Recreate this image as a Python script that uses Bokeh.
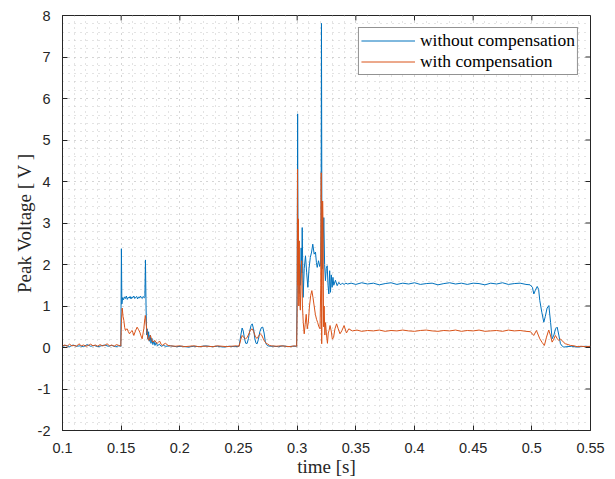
from bokeh.plotting import figure
from bokeh.models import FixedTicker, Range1d
from bokeh.embed import file_html
from bokeh.resources import INLINE

# ---------------- data ----------------
blue_t = [
    0.100, 0.103, 0.106, 0.109, 0.112, 0.115, 0.118, 0.121, 0.124, 0.127, 0.130, 0.133, 0.136, 0.139, 0.142, 0.145, 0.148, 0.1497,
    0.1502, 0.1506, 0.1512, 0.1520, 0.1528, 0.1536, 0.1544, 0.1552, 0.1560, 0.1568, 0.1576, 0.1584, 0.1592, 0.1600, 0.1608, 0.1616,
    0.1624, 0.1632, 0.1640, 0.1648, 0.1656, 0.1664, 0.1672, 0.1680, 0.1688, 0.1696, 0.1702,
    0.1707, 0.1712, 0.1717, 0.1722, 0.1728, 0.1734, 0.1740, 0.1747, 0.1754, 0.1762, 0.1770, 0.1779, 0.1788, 0.1798, 0.1810, 0.1825,
    0.1840, 0.1860, 0.1880,
    0.192, 0.197, 0.202, 0.207, 0.212, 0.217, 0.222, 0.227, 0.232, 0.237, 0.242, 0.247, 0.2505,
    0.2520, 0.2531, 0.2540, 0.2552, 0.2562, 0.2574, 0.2585, 0.2596, 0.2607, 0.2617, 0.2628, 0.2640, 0.2650, 0.2659, 0.2670, 0.2682,
    0.2695, 0.2707, 0.2718, 0.2728, 0.2738, 0.2750, 0.2770,
    0.280, 0.284, 0.288, 0.292, 0.296, 0.2995,
    0.3000, 0.3004, 0.3008, 0.3012, 0.3017, 0.3022, 0.3028, 0.3034, 0.3039, 0.3043,
    0.3051, 0.3060, 0.3071, 0.3081, 0.3091, 0.3101, 0.3112, 0.3123, 0.3133, 0.3145,
    0.3156, 0.3164, 0.3171, 0.3182, 0.3193, 0.3200, 0.3204, 0.3207, 0.3211, 0.3216,
    0.3222, 0.3227, 0.3234, 0.3241, 0.3248, 0.3256, 0.3263, 0.3270, 0.3277, 0.3284,
    0.3291, 0.3298, 0.3305, 0.3312, 0.3326, 0.3341, 0.3355, 0.3370, 0.3384, 0.3400,
    0.3415, 0.3430,
    0.346, 0.350, 0.355, 0.360, 0.365, 0.370, 0.375, 0.380, 0.385, 0.390,
    0.395, 0.400, 0.405, 0.410, 0.415, 0.420, 0.425, 0.430, 0.435, 0.440,
    0.445, 0.450, 0.455, 0.460, 0.465, 0.470, 0.475, 0.480, 0.485, 0.490,
    0.495, 0.4985,
    0.5005, 0.5017, 0.5030, 0.5046, 0.5058, 0.5068, 0.5085, 0.5102, 0.5115, 0.5130,
    0.5145, 0.5160, 0.5173, 0.5188, 0.5202, 0.5216, 0.5230, 0.5244, 0.5260, 0.5273,
    0.530, 0.534, 0.538, 0.542, 0.546, 0.550,
]
blue_v = [
    0.03, 0.05, 0.02, 0.06, 0.03, 0.04, 0.02, 0.07, 0.03, 0.05, 0.02, 0.04, 0.06, 0.03, 0.05, 0.02, 0.04, 0.03,
    2.38, 1.05, 1.20, 1.15, 1.22, 1.18, 1.24, 1.16, 1.21, 1.19, 1.23, 1.17, 1.22, 1.20, 1.24, 1.18,
    1.21, 1.23, 1.17, 1.22, 1.19, 1.24, 1.20, 1.18, 1.23, 1.20, 1.22,
    2.11, 1.00, 0.30, 0.45, 0.20, 0.38, 0.15, 0.30, 0.10, 0.22, 0.07, 0.16, 0.05, 0.12, 0.04, 0.08,
    0.03, 0.05, 0.03,
    0.04, 0.02, 0.03, 0.01, 0.03, 0.02, 0.04, 0.02, 0.03, 0.01, 0.03, 0.02, 0.03,
    0.30, 0.47, 0.40, 0.20, 0.10, 0.10, 0.22, 0.40, 0.53, 0.57, 0.45, 0.20, 0.10, 0.09, 0.20, 0.38,
    0.48, 0.49, 0.35, 0.15, 0.07, 0.04, 0.03,
    0.03, 0.02, 0.04, 0.02, 0.03, 0.03,
    1.50, 5.63, 1.60, 2.30, 1.30, 2.00, 1.50, 2.40, 1.80, 2.89,
    1.21, 1.90, 2.21, 1.80, 1.45, 1.90, 2.17, 2.30, 2.49, 2.25,
    2.30, 2.05, 1.93, 2.09, 1.95, 2.00, 3.00, 7.81, 2.50, 1.90,
    2.60, 3.13, 2.00, 1.61, 1.90, 1.97, 1.50, 1.29, 1.85, 1.33,
    1.75, 1.45, 1.69, 1.50, 1.62, 1.49, 1.57, 1.51, 1.55, 1.52,
    1.55, 1.53,
    1.55, 1.52, 1.56, 1.53, 1.55, 1.51, 1.54, 1.56, 1.52, 1.55,
    1.53, 1.56, 1.52, 1.54, 1.55, 1.51, 1.54, 1.56, 1.53, 1.55,
    1.52, 1.55, 1.54, 1.51, 1.55, 1.53, 1.56, 1.52, 1.54, 1.55,
    1.52, 1.51,
    1.45, 1.29, 1.38, 1.47, 1.40, 1.13, 0.85, 0.61, 0.75, 0.95,
    1.01, 0.60, 0.21, 0.30, 0.45, 0.49, 0.30, 0.09, 0.03, 0.01,
    0.02, 0.03, 0.01, 0.02, 0.03, 0.02,
]

orange_t = [
    0.100, 0.102, 0.104, 0.106, 0.108, 0.110, 0.112, 0.114, 0.116, 0.118, 0.120, 0.122, 0.124, 0.126, 0.128, 0.130,
    0.132, 0.134, 0.136, 0.138, 0.140, 0.142, 0.144, 0.146, 0.148, 0.1497,
    0.1502, 0.1509, 0.1516, 0.1523, 0.1530, 0.1537, 0.1544, 0.1551, 0.1561, 0.1571,
    0.1582, 0.1594, 0.1601, 0.1608, 0.1622, 0.1636, 0.1648, 0.1659, 0.1669, 0.1679,
    0.1693, 0.1702, 0.1707, 0.1714, 0.1722, 0.1729, 0.1736, 0.1743, 0.1750, 0.1760,
    0.1770, 0.1778, 0.1787, 0.1797, 0.1807, 0.1818, 0.1829, 0.1840, 0.1850, 0.1864,
    0.1878, 0.1900, 0.1920,
    0.196, 0.200, 0.204, 0.208, 0.212, 0.216, 0.220, 0.224, 0.228, 0.232, 0.236, 0.240, 0.244, 0.248, 0.2505,
    0.2520, 0.2531, 0.2545, 0.2560, 0.2574, 0.2588, 0.2602, 0.2617, 0.2630, 0.2645,
    0.2659, 0.2672, 0.2685, 0.2697, 0.2710, 0.2722, 0.2736, 0.2750, 0.2765, 0.2780,
    0.282, 0.286, 0.290, 0.294, 0.2975, 0.2996,
    0.3000, 0.3003, 0.3006, 0.3010, 0.3014, 0.3018, 0.3022, 0.3027, 0.3032, 0.3038,
    0.3045, 0.3052, 0.3060, 0.3068, 0.3077, 0.3086, 0.3095, 0.3105, 0.3115, 0.3125,
    0.3135, 0.3145, 0.3155, 0.3165, 0.3175, 0.3185, 0.3195, 0.3201, 0.3205, 0.3209,
    0.3213, 0.3217, 0.3221, 0.3225, 0.3230, 0.3236, 0.3242, 0.3250, 0.3258, 0.3265,
    0.3272, 0.3280, 0.3290, 0.3300, 0.3310, 0.3322, 0.3336, 0.3350, 0.3365, 0.3380,
    0.3400, 0.3420, 0.3440,
    0.347, 0.351, 0.355, 0.360, 0.365, 0.370, 0.375, 0.380, 0.385, 0.390,
    0.395, 0.400, 0.405, 0.410, 0.415, 0.420, 0.425, 0.430, 0.435, 0.440,
    0.445, 0.450, 0.455, 0.460, 0.465, 0.470, 0.475, 0.480, 0.485, 0.490,
    0.495, 0.4989,
    0.5016, 0.5039, 0.5055, 0.5068, 0.5088, 0.5107, 0.5125, 0.5144, 0.5158, 0.5173,
    0.5187, 0.5201, 0.5215, 0.5229, 0.5244, 0.5258, 0.5272, 0.5286, 0.5310, 0.5329,
    0.536, 0.5386, 0.542, 0.546, 0.550,
]
orange_v = [
    0.04, 0.06, 0.03, 0.08, 0.04, 0.05, 0.03, 0.09, 0.04, 0.06, 0.03, 0.05, 0.08, 0.04, 0.06, 0.03,
    0.07, 0.04, 0.05, 0.09, 0.04, 0.06, 0.03, 0.07, 0.05, 0.04,
    0.60, 0.95, 0.75, 0.65, 0.48, 0.41, 0.44, 0.45, 0.38, 0.33,
    0.38, 0.41, 0.35, 0.29, 0.40, 0.49, 0.43, 0.37, 0.28, 0.21,
    0.45, 0.70, 0.77, 0.55, 0.33, 0.22, 0.17, 0.24, 0.29, 0.18,
    0.13, 0.15, 0.17, 0.12, 0.10, 0.13, 0.15, 0.08, 0.05, 0.08,
    0.10, 0.05, 0.04,
    0.03, 0.04, 0.02, 0.03, 0.04, 0.02, 0.03, 0.03, 0.02, 0.04, 0.03, 0.02, 0.03, 0.04, 0.03,
    0.20, 0.29, 0.24, 0.21, 0.24, 0.33, 0.42, 0.45, 0.38, 0.25,
    0.22, 0.28, 0.33, 0.30, 0.22, 0.15, 0.10, 0.08, 0.05, 0.04,
    0.03, 0.04, 0.03, 0.02, 0.04, 0.03,
    1.00, 4.30, 1.50, 3.10, 1.00, 2.57, 1.20, 0.90, 1.60, 2.09,
    1.00, 0.60, 0.33, 0.55, 0.80, 0.45, 0.60, 1.00, 1.25, 1.37,
    1.20, 1.00, 0.80, 0.68, 0.60, 0.50, 0.45, 1.50, 4.21, 0.09,
    1.50, 3.53, 2.87, 0.50, 1.00, 0.30, 0.60, 0.30, 0.10, 0.35,
    0.41, 0.53, 0.40, 0.20, 0.24, 0.45, 0.57, 0.45, 0.33, 0.40,
    0.53, 0.35, 0.45,
    0.40, 0.42, 0.39, 0.41, 0.40, 0.42, 0.39, 0.41, 0.40, 0.42,
    0.40, 0.39, 0.41, 0.42, 0.40, 0.39, 0.41, 0.40, 0.42, 0.39,
    0.41, 0.40, 0.42, 0.39, 0.40, 0.41, 0.39, 0.42, 0.40, 0.41,
    0.39, 0.38,
    0.29, 0.41, 0.30, 0.21, 0.12, 0.05, 0.25, 0.42, 0.30, 0.13,
    0.20, 0.29, 0.22, 0.17, 0.20, 0.17, 0.12, 0.09, 0.07, 0.05,
    0.04, 0.02, 0.03, 0.02, 0.03,
]

series_labels = ["without compensation", "with compensation"]

x_ticks = [0.1, 0.15, 0.2, 0.25, 0.3, 0.35, 0.4, 0.45, 0.5, 0.55]
x_tick_labels = ["0.1", "0.15", "0.2", "0.25", "0.3", "0.35", "0.4", "0.45", "0.5", "0.55"]
y_ticks = [-2, -1, 0, 1, 2, 3, 4, 5, 6, 7, 8]
y_tick_labels = ["-2", "-1", "0", "1", "2", "3", "4", "5", "6", "7", "8"]

X0, X1 = 0.1, 0.55
Y0, Y1 = -2, 8

# minor grid positions (every 0.01 s and every 0.2 V)
x_minor = [round(X0 + 0.01 * i, 3) for i in range(46)]
y_minor = [round(Y0 + 0.2 * i, 3) for i in range(51)]

# ---------------- styling / layout ----------------
AX = "#262626"
BLUE = "#0072BD"
ORANGE = "#D95319"
GRID = "#c6c6c6"
SANS = "Liberation Sans"
SERIF = "Liberation Serif"

W, H = 608, 479
BL, BR, BT, BB = 62, 18, 15, 47
FW, FH = W - BL - BR, H - BT - BB
TICK = 5  # px, inward

p = figure(width=W, height=H,
           x_range=Range1d(X0, X1), y_range=Range1d(Y0, Y1),
           output_backend="svg", toolbar_location=None,
           min_border_left=BL, min_border_right=BR,
           min_border_top=BT, min_border_bottom=BB)
p.outline_line_color = AX
p.outline_line_width = 1

xt = FixedTicker(ticks=x_ticks, minor_ticks=x_minor)
yt = FixedTicker(ticks=y_ticks, minor_ticks=y_minor)

for g, t in ((p.xgrid[0], xt), (p.ygrid[0], yt)):
    g.ticker = t
    g.grid_line_color = GRID
    g.grid_line_dash = "1 5"
    g.grid_line_width = 1
    g.minor_grid_line_color = GRID
    g.minor_grid_line_dash = "1 5"
    g.minor_grid_line_width = 1

p.line(blue_t, blue_v, line_color=BLUE, line_width=1, legend_label=series_labels[0])
p.line(orange_t, orange_v, line_color=ORANGE, line_width=1, legend_label=series_labels[1])

# inward tick marks on the top and right edges of the box
dy = TICK * (Y1 - Y0) / FH
dx = TICK * (X1 - X0) / FW
p.segment(x0=x_ticks, y0=[Y1] * len(x_ticks), x1=x_ticks, y1=[Y1 - dy] * len(x_ticks),
          line_color=AX, line_width=1)
p.segment(x0=[X1] * len(y_ticks), y0=y_ticks, x1=[X1 - dx] * len(y_ticks), y1=y_ticks,
          line_color=AX, line_width=1)

for ax, tk, ticks, labels in ((p.xaxis[0], xt, x_ticks, x_tick_labels),
                              (p.yaxis[0], yt, y_ticks, y_tick_labels)):
    ax.ticker = tk
    ax.major_label_overrides = {t: l for t, l in zip(ticks, labels)}
    ax.major_tick_in = TICK
    ax.major_tick_out = 0
    ax.minor_tick_line_color = None
    ax.axis_line_color = AX
    ax.major_tick_line_color = AX
    ax.major_label_text_font = SANS
    ax.major_label_text_font_size = "14.5px"
    ax.major_label_text_color = AX
    ax.axis_label_text_font = SERIF
    ax.axis_label_text_font_style = "normal"
    ax.axis_label_text_font_size = "19px"
    ax.axis_label_text_color = AX

p.xaxis[0].axis_label = "time [s]"
p.yaxis[0].axis_label = "Peak Voltage [ V ]"
p.xaxis[0].major_label_standoff = 8
p.xaxis[0].axis_label_standoff = 0
p.yaxis[0].major_label_standoff = 8
p.yaxis[0].axis_label_standoff = 0

lg = p.legend[0]
lg.location = "top_right"
lg.margin = 12
lg.padding = 2
lg.spacing = 0
lg.glyph_width = 54
lg.glyph_height = 19
lg.label_height = 19
lg.label_standoff = 5
lg.label_text_font = SERIF
lg.label_text_font_size = "17.5px"
lg.label_text_color = "black"
lg.border_line_color = AX
lg.border_line_width = 1
lg.background_fill_color = "white"
lg.background_fill_alpha = 1

open("out.html", "w").write(file_html(p, INLINE))
